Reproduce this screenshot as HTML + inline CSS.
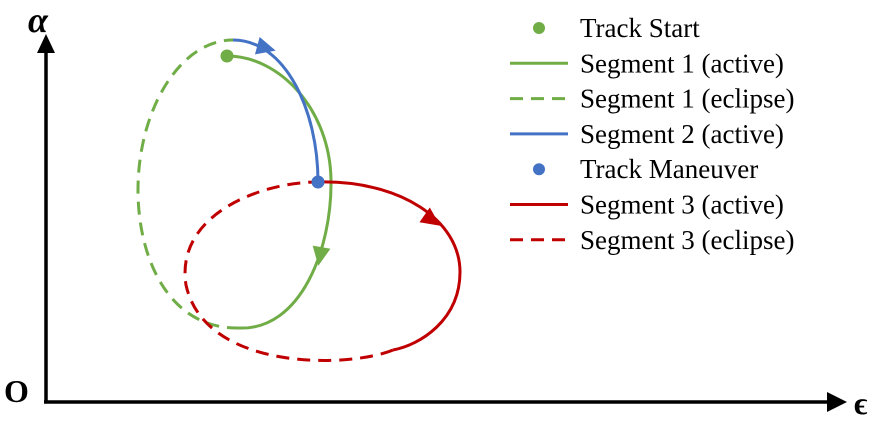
<!DOCTYPE html>
<html><head><meta charset="utf-8"><style>
body{margin:0;background:#fff;width:877px;height:421px;overflow:hidden}
svg{display:block;font-family:"Liberation Serif",serif}
</style></head><body>
<svg id="c" width="877" height="421">
<g><line x1="46" y1="403" x2="46" y2="50" stroke="#000" stroke-width="3.5"/><path d="M37,53 L46,34 L55,53z" fill="#000"/></g>
<g><line x1="44" y1="402" x2="830" y2="402" stroke="#000" stroke-width="3.5"/><path d="M827,392 L847,402 L827,412z" fill="#000"/></g>
<text x="28" y="32" font-size="36" font-weight="bold" font-style="italic">α</text>
<text x="4" y="402" font-size="32" font-weight="bold">O</text>
<text x="854" y="414" font-size="32" font-weight="bold">ϵ</text>
<g id="curves"></g>
<g id="legend"></g>
</svg>
<script>
const G='#70ad47',B='#4472c4',R='#c00000';
// Segment paths as cubic bezier control points [x,y]
const seg1Active=[[227,56],[280,56],[330,110],[331,180],[332,250],[300,330],[240,328]];
const seg1Eclipse=[[240,328],[170,330],[138,260],[138,190],[138,110],[180,40],[233,40]];
const seg2Active=[[233,40],[285,40],[318,110],[318,182]];
const seg3Active=[[318,182],[400,180],[460,220],[460,272],[460,320],[420,345],[393,350]];
const seg3Eclipse=[[393,350],[350,368],[205,372],[186,285],[175,215],[260,182],[318,182]];
const arrows=[[266,48,15,B],[432,220,35,R],[320,256,100,G]];
const dots=[[227,56,G],[318,182,B]];
const legendLabels=['Track Start','Segment 1 (active)','Segment 1 (eclipse)','Segment 2 (active)','Track Maneuver','Segment 3 (active)','Segment 3 (eclipse)'];
const legendKinds=[['dot',G],['line',G],['dash',G],['line',B],['dot',B],['line',R],['dash',R]];
const ns='http://www.w3.org/2000/svg';
function d(p){let s='M'+p[0];for(let i=1;i<p.length;i+=3)s+=' C'+p[i]+' '+p[i+1]+' '+p[i+2];return s;}
const cg=document.getElementById('curves');
function path(pts,col,dash,name){const e=document.createElementNS(ns,'path');e.setAttribute('d',d(pts));e.setAttribute('fill','none');e.setAttribute('stroke',col);e.setAttribute('stroke-width','3');if(dash)e.setAttribute('stroke-dasharray','13 8');


cg.appendChild(e);}
path(seg1Eclipse,G,1,'segment-1-eclipse');
path(seg3Eclipse,R,1,'segment-3-eclipse');
path(seg1Active,G,0,'segment-1-active');
path(seg2Active,B,0,'segment-2-active');
path(seg3Active,R,0,'segment-3-active');
arrows.forEach(a=>{const e=document.createElementNS(ns,'path');e.setAttribute('d','M10,0 L-9,-9 L-9,9z');e.setAttribute('fill',a[3]);e.setAttribute('transform','translate('+a[0]+','+a[1]+') rotate('+a[2]+')');


cg.appendChild(e);});
dots.forEach((p,i)=>{const e=document.createElementNS(ns,'circle');e.setAttribute('cx',p[0]);e.setAttribute('cy',p[1]);e.setAttribute('r','6.5');e.setAttribute('fill',p[2]);


cg.appendChild(e);});
const lg=document.getElementById('legend');
legendLabels.forEach((t,i)=>{const y=28+i*35.3;const g=document.createElementNS(ns,'g');


const k=legendKinds[i];let m;
if(k[0]==='dot'){m=document.createElementNS(ns,'circle');m.setAttribute('cx',539);m.setAttribute('cy',y);m.setAttribute('r',6);m.setAttribute('fill',k[1]);}
else{m=document.createElementNS(ns,'line');m.setAttribute('x1',510);m.setAttribute('x2',568);m.setAttribute('y1',y);m.setAttribute('y2',y);m.setAttribute('stroke',k[1]);m.setAttribute('stroke-width',3);if(k[0]==='dash')m.setAttribute('stroke-dasharray','13 8');}
g.appendChild(m);
const tx=document.createElementNS(ns,'text');tx.setAttribute('x',580);tx.setAttribute('y',y+9);tx.setAttribute('font-size','27');tx.textContent=t;g.appendChild(tx);lg.appendChild(g);});
</script>
</body></html>
